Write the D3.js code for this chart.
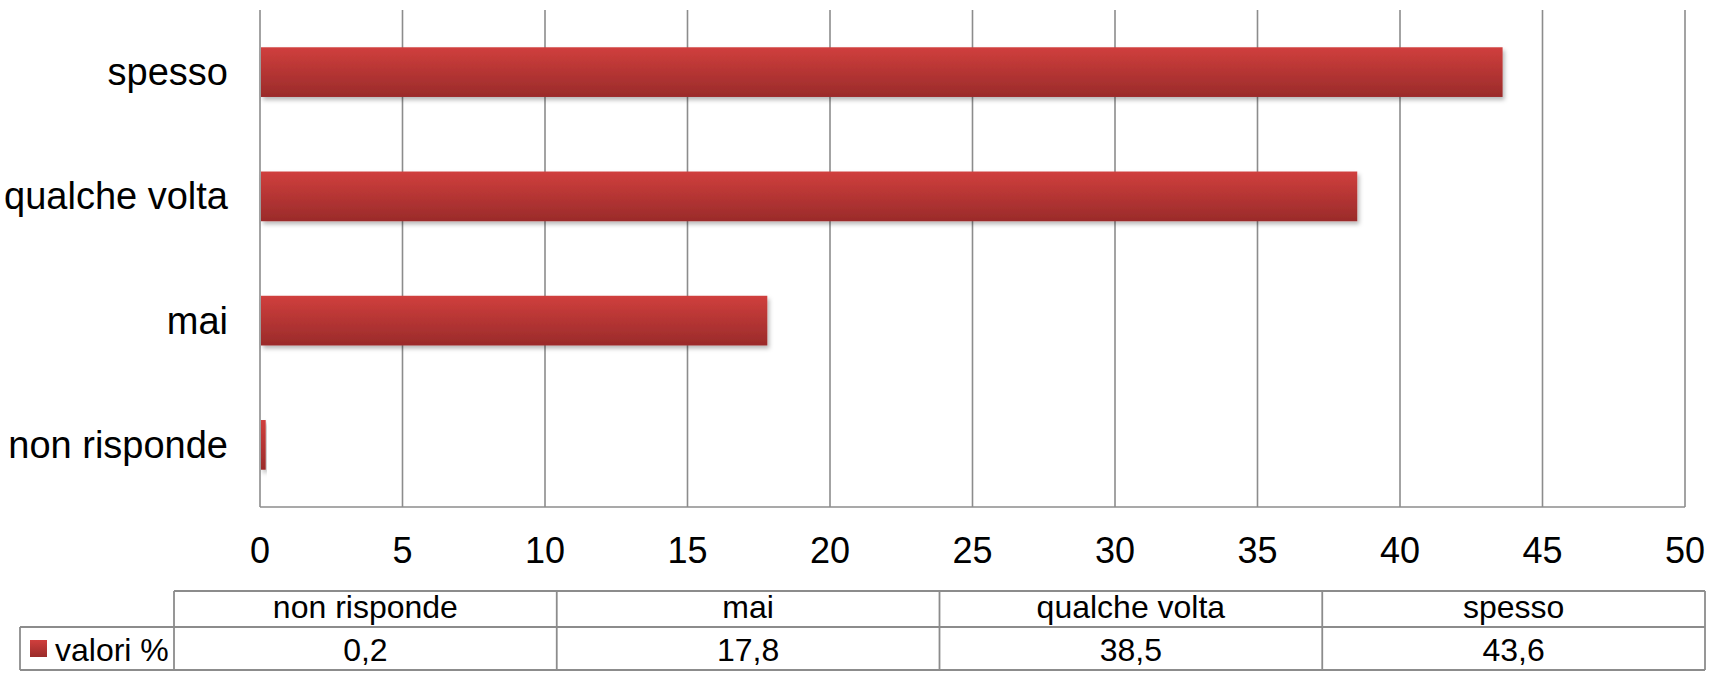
<!DOCTYPE html>
<html>
<head>
<meta charset="utf-8">
<script src="https://cdn.jsdelivr.net/npm/d3@7"></script>
<style>
  html, body { margin: 0; padding: 0; background: #ffffff; }
  svg { display: block; }
  text { font-family: "Liberation Sans", Arial, Helvetica, sans-serif; fill: #000; }
</style>
</head>
<body>
<svg id="chart" width="1709" height="678"></svg>
<script>
// ---- data ----
const categories = ["non risponde", "mai", "qualche volta", "spesso"];
const values = [0.2, 17.8, 38.5, 43.6];
const valueLabels = ["0,2", "17,8", "38,5", "43,6"];
const tickValues = [0, 5, 10, 15, 20, 25, 30, 35, 40, 45, 50];
const seriesName = "valori %";

// ---- layout ----
const W = 1709, H = 678;
const plot = { left: 260, right: 1685, top: 10, bottom: 507 };
const gridColor = "#8c8c8c";

const svg = d3.select("#chart");
const defs = svg.append("defs");

const grad = defs.append("linearGradient")
  .attr("id", "barGrad").attr("x1", 0).attr("y1", 0).attr("x2", 0).attr("y2", 1);
grad.append("stop").attr("offset", "0%").attr("stop-color", "#d03f3d");
grad.append("stop").attr("offset", "100%").attr("stop-color", "#9a2b2a");

const shadow = defs.append("filter").attr("id", "shadow")
  .attr("x", "-5%").attr("y", "-20%").attr("width", "120%").attr("height", "160%");
shadow.append("feDropShadow").attr("dx", 2).attr("dy", 3).attr("stdDeviation", 2)
  .attr("flood-color", "#000").attr("flood-opacity", 0.28);

const x = d3.scaleLinear().domain([0, 50]).range([plot.left, plot.right]);
const y = d3.scaleBand()
  .domain(categories.slice().reverse())
  .range([plot.top, plot.bottom])
  .paddingInner(0.6).paddingOuter(0.3);

// gridlines
svg.append("g").selectAll("line")
  .data(tickValues).join("line")
  .attr("x1", d => x(d)).attr("x2", d => x(d))
  .attr("y1", plot.top).attr("y2", plot.bottom)
  .attr("stroke", gridColor).attr("stroke-width", 1.6);

// bottom axis line
svg.append("line")
  .attr("x1", plot.left).attr("x2", plot.right)
  .attr("y1", plot.bottom).attr("y2", plot.bottom)
  .attr("stroke", gridColor).attr("stroke-width", 1.6);

// bars
svg.append("g").selectAll("rect")
  .data(categories).join("rect")
  .attr("x", x(0) + 1)
  .attr("y", d => y(d))
  .attr("width", (d, i) => Math.max(0, x(values[i]) - x(0) - 1))
  .attr("height", y.bandwidth())
  .attr("fill", "url(#barGrad)")
  .attr("filter", "url(#shadow)");

// category labels
svg.append("g").selectAll("text")
  .data(categories).join("text")
  .attr("x", 228)
  .attr("y", d => y(d) + y.bandwidth() / 2)
  .attr("text-anchor", "end")
  .attr("dominant-baseline", "central")
  .attr("font-size", 38)
  .text(d => d);

// x tick labels
svg.append("g").selectAll("text")
  .data(tickValues).join("text")
  .attr("x", d => x(d))
  .attr("y", 563)
  .attr("text-anchor", "middle")
  .attr("font-size", 36)
  .text(d => d);

// ---- data table ----
const tbl = { left: 174, right: 1705, top: 591, mid: 627, bottom: 670, legendLeft: 20 };
const col = d3.scaleBand().domain(categories).range([tbl.left, tbl.right]).padding(0);
const tg = svg.append("g").attr("stroke", gridColor).attr("stroke-width", 1.8).attr("fill", "none");

// outer lines
tg.append("line").attr("x1", tbl.left).attr("x2", tbl.right).attr("y1", tbl.top).attr("y2", tbl.top);
tg.append("line").attr("x1", tbl.legendLeft).attr("x2", tbl.right).attr("y1", tbl.mid).attr("y2", tbl.mid);
tg.append("line").attr("x1", tbl.legendLeft).attr("x2", tbl.right).attr("y1", tbl.bottom).attr("y2", tbl.bottom);
tg.append("line").attr("x1", tbl.legendLeft).attr("x2", tbl.legendLeft).attr("y1", tbl.mid).attr("y2", tbl.bottom);
// column separators
const seps = categories.map(c => col(c)).concat([tbl.right]);
tg.selectAll("line.sep").data(seps).join("line").attr("class", "sep")
  .attr("x1", d => d).attr("x2", d => d).attr("y1", tbl.top).attr("y2", tbl.bottom);

// header text
svg.append("g").selectAll("text")
  .data(categories).join("text")
  .attr("x", d => col(d) + col.bandwidth() / 2)
  .attr("y", 618)
  .attr("text-anchor", "middle")
  .attr("font-size", 32)
  .text(d => d);

// value text
svg.append("g").selectAll("text")
  .data(categories).join("text")
  .attr("x", d => col(d) + col.bandwidth() / 2)
  .attr("y", 661)
  .attr("text-anchor", "middle")
  .attr("font-size", 32)
  .text((d, i) => valueLabels[i]);

// legend key
svg.append("rect")
  .attr("x", 30).attr("y", 640).attr("width", 17).attr("height", 17)
  .attr("fill", "url(#barGrad)");
svg.append("text")
  .attr("x", 55).attr("y", 661)
  .attr("font-size", 32)
  .text(seriesName);
</script>
</body>
</html>
